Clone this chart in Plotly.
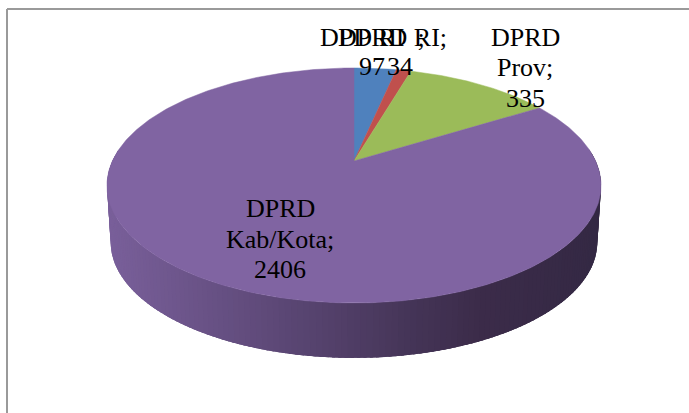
import numpy as np
import plotly.graph_objects as go

categories = ["DPD RI", "DPRD RI", "DPRD Prov", "DPRD Kab/Kota"]
values = [97, 34, 335, 2406]
label_lines = [["DPD RI\u00a0\u00a0;", "97"], ["DPRD RI;", "34"], ["DPRD", "Prov;", "335"], ["DPRD", "Kab/Kota;", "2406"]]
slice_colors = ["#4F81BD", "#C0504D", "#9BBB59", "#8064A2"]

W, H = 689, 413
CX, CY = 354.0, 161.0
A, B, K = 241.6, 112.4, 0.2085
DEPTH, SHRINK = 57.0, 0.985


def rim(theta):
    d = 1 + K * np.cos(theta)
    return A * np.sin(theta) / d, -B * np.cos(theta) / d


def side_color(t):
    stops = [(0.0, (122, 96, 155)), (0.3, (96, 75, 123)), (0.62, (68, 52, 86)), (0.75, (60, 44, 74)), (1.0, (52, 41, 68))]
    xs = [s[0] for s in stops]
    return "rgb(%d,%d,%d)" % tuple(int(np.interp(t, xs, [s[1][i] for s in stops])) for i in range(3))


fig = go.Figure()

# side wall: overlapping strips along the front of the rim
strip_edges = np.radians(np.linspace(84, 276, 161))
step = strip_edges[1] - strip_edges[0]
for a0 in strip_edges[:-1]:
    th = np.linspace(a0, a0 + 2.5 * step, 4)
    th = th[th <= strip_edges[-1] + 1e-9]
    x, y = rim(th)
    xs = np.r_[CX + x, CX + SHRINK * x[::-1]]
    ys = np.r_[CY + y, CY + DEPTH + SHRINK * y[::-1]]
    c = side_color((xs.mean() - 107) / 494)
    fig.add_trace(go.Scatter(x=xs, y=ys, mode="lines", fill="toself", fillcolor=c,
                             line=dict(color=c, width=0), hoverinfo="skip", showlegend=False))

# top face: wedges computed from the values
edges = np.cumsum([0] + values) / sum(values) * 2 * np.pi
for name, a0, a1, c in zip(categories, edges[:-1], edges[1:], slice_colors):
    th = np.linspace(a0, a1, max(4, int((a1 - a0) * 80)))
    x, y = rim(th)
    fig.add_trace(go.Scatter(x=np.r_[CX, CX + x, CX], y=np.r_[CY, CY + y, CY], mode="lines", fill="toself",
                             fillcolor=c, line=dict(color=c, width=0.5), name=name, showlegend=False))

# frame: only the top and left edges reach the picture
fig.add_shape(type="line", x0=7, y0=9, x1=W, y1=9, line=dict(color="#9A9A9A", width=2))
fig.add_shape(type="line", x0=7, y0=9, x1=7, y1=H, line=dict(color="#9A9A9A", width=2))

# one (x, y) per text line
label_pos = [[(372, 37), (372, 66)], [(392, 37), (400, 66)],
             [(525, 37), (525, 67), (525, 98)], [(280, 208), (280, 239), (280, 269)]]
for lines, places in zip(label_lines, label_pos):
    for line, (lx, ly) in zip(lines, places):
        fig.add_annotation(x=lx, y=ly, text=line, showarrow=False, xanchor="center", yanchor="middle",
                           font=dict(family="Liberation Serif", size=26, color="#000000"))

fig.update_layout(width=W, height=H, margin=dict(l=0, r=0, t=0, b=0), paper_bgcolor="white", plot_bgcolor="white",
                  xaxis=dict(range=[0, W], visible=False, fixedrange=True),
                  yaxis=dict(range=[H, 0], visible=False, fixedrange=True), showlegend=False)
fig.write_html("out.html", config={"displayModeBar": False},
               post_script="document.body.style.margin='0';document.body.style.overflow='hidden';")
